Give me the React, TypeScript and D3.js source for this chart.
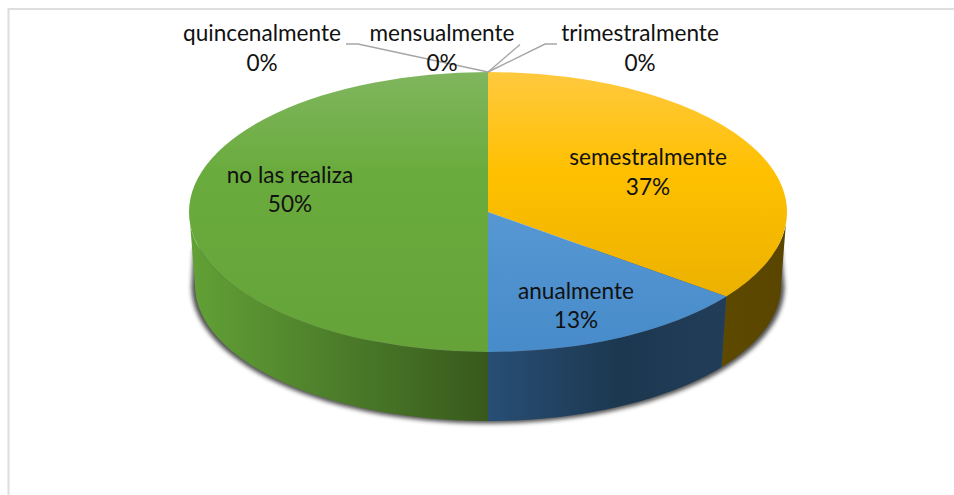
import React from "react";
import * as d3 from "d3";

const categories = ["semestralmente", "anualmente", "no las realiza", "quincenalmente", "mensualmente", "trimestralmente"];
const shares = [37, 13, 50, 0, 0, 0];
const percentLabels = ["37%", "13%", "50%", "0%", "0%", "0%"];
const topStops = [
  ["#ffc93f", "#ffc000", "#e3ab00"],
  ["#72a8dd", "#5b9bd5", "#478bca"],
  ["#80b65e", "#6aab3d", "#65a339"],
];
const sideStops = [
  [[0, "#5e4900"], [1, "#5a4500"]],
  [[0, "#284e75"], [0.55, "#1c3850"], [1, "#213d59"]],
  [[0, "#62a136"], [0.5, "#4c7d2a"], [1, "#38591c"]],
];
const labelCenters = [
  [648, 157, 187], [576, 291, 320], [290, 175, 204],
  [262, 33, 63], [442, 33, 63], [640, 33, 63],
];
const leaders = [
  [[346, 44], [358, 44], [488, 72]],
  [[520, 44.5], [488, 72]],
  [[557, 44], [545, 44], [488, 72]],
];

const TWO_PI = Math.PI * 2;
const top = { cx: 488, cy: 212, rx: 299, ry: 140 };
const bottom = { cx: 488, cy: 285, rx: 293, ry: 136 };
const SIDE_START = Math.PI / 2;
const SIDE_END = (Math.PI * 3) / 2;

// perspective correction of the pie angle on the tilted disc
const warp = (a: number) => {
  const t = Math.atan2(1.24 * Math.sin(a), Math.cos(a));
  return a >= TWO_PI - 1e-9 ? TWO_PI : t < 0 ? t + TWO_PI : t;
};

const onEllipse = (e: typeof top, t: number): [number, number] => [
  e.cx + e.rx * Math.sin(t),
  e.cy - e.ry * Math.cos(t),
];

const linePath = d3.line();
const arcShape = d3.arc();

export default function App() {
  const pie = d3.pie<number>().sort(null).startAngle(0).endAngle(TWO_PI)(shares);
  const slices = pie
    .map((p, i) => ({ i, a: warp(p.startAngle), b: warp(p.endAngle), size: p.endAngle - p.startAngle }))
    .filter((s) => s.size > 0);

  const ringPts = (e: typeof top, a: number, b: number) =>
    d3.range(0, 61).map((k) => onEllipse(e, a + ((b - a) * k) / 60));

  const sides = slices
    .map((s) => {
      const a = Math.max(s.a, SIDE_START);
      const b = Math.min(s.b, SIDE_END);
      if (b <= a) return null;
      const pts = [...ringPts(top, Math.max(s.a, (SIDE_START * 95) / 90), Math.min(s.b, (SIDE_END * 265) / 270)), ...ringPts(bottom, a, b).reverse()];
      return { i: s.i, d: linePath(pts) + "Z", x0: d3.min(pts, (p) => p[0])!, x1: d3.max(pts, (p) => p[0])! };
    })
    .filter(Boolean) as { i: number; d: string; x0: number; x1: number }[];

  const shadowRing = { ...bottom, rx: bottom.rx + 3.5, cy: bottom.cy + 1.5, ry: bottom.ry + 1 };
  const shadowPts: [number, number][] = [
    [bottom.cx + bottom.rx + 0.5, 248],
    ...ringPts(shadowRing, SIDE_START, SIDE_END),
    [bottom.cx - bottom.rx - 1.5, 248],
  ];

  const fontFamily = "Lato, 'Open Sans', sans-serif";
  return (
    <svg width={954} height={495} style={{ position: "absolute", left: 0, top: 0, background: "#fff" }}>
      <defs>
        <filter id="blur" x="-5%" y="-5%" width="110%" height="110%">
          <feGaussianBlur stdDeviation="2" />
        </filter>
        {slices.map((s) => (
          <linearGradient key={s.i} id={`top${s.i}`} gradientUnits="userSpaceOnUse" x1="0" y1="-1" x2="0" y2="1">
            <stop offset="0" stopColor={topStops[s.i][0]} />
            <stop offset="0.36" stopColor={topStops[s.i][1]} />
            <stop offset="1" stopColor={topStops[s.i][2]} />
          </linearGradient>
        ))}
        {sides.map((s) => (
          <linearGradient key={s.i} id={`side${s.i}`} gradientUnits="userSpaceOnUse" x1={s.x0} y1="0" x2={s.x1} y2="0">
            {sideStops[s.i].map(([o, c]) => (
              <stop key={String(o)} offset={o as number} stopColor={c as string} />
            ))}
          </linearGradient>
        ))}
      </defs>

      <path d={linePath([[954, 9], [8.5, 9], [8.5, 495]]) ?? ""} fill="none" stroke="#dedede" strokeWidth={2} />

      <path d={linePath(shadowPts) + "Z"} fill="#303030" opacity={0.85} filter="url(#blur)" />

      {sides.map((s) => (
        <path key={s.i} d={s.d} fill={`url(#side${s.i})`} />
      ))}

      <g transform={`translate(${top.cx},${top.cy}) scale(${top.rx},${top.ry})`}>
        {slices.map((s) => (
          <path
            key={s.i}
            d={arcShape({ innerRadius: 0, outerRadius: 1, startAngle: s.a, endAngle: s.b } as any) ?? ""}
            fill={`url(#top${s.i})`}
          />
        ))}
      </g>

      {leaders.map((pts, i) => (
        <path key={i} d={linePath(pts as [number, number][]) ?? ""} fill="none" stroke="#a6a6a6" strokeWidth={1.4} />
      ))}

      <g fontFamily={fontFamily} fontSize={22.6} fill="#111" textAnchor="middle">
        {categories.map((c, i) => (
          <g key={c}>
            <text x={labelCenters[i][0]} y={labelCenters[i][1]} dy="0.35em">{c}</text>
            <text x={labelCenters[i][0]} y={labelCenters[i][2]} dy="0.35em">{percentLabels[i]}</text>
          </g>
        ))}
      </g>
    </svg>
  );
}
